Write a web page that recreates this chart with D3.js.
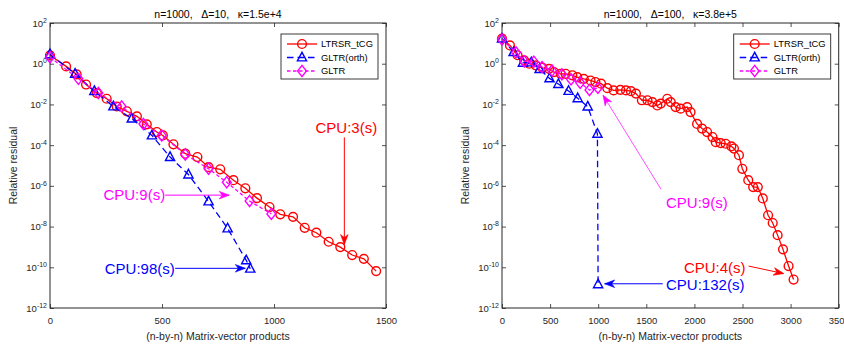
<!DOCTYPE html>
<html>
<head>
<meta charset="utf-8">
<script src="https://cdn.jsdelivr.net/npm/d3@7/dist/d3.min.js"></script>
<style>
  body { margin: 0; background: #fff; }
  svg { display: block; font-family: "Liberation Sans", Arial, Helvetica, sans-serif; }
</style>
</head>
<body>
<svg id="chart" width="844" height="348"></svg>
<script>
// ---- data: [matrix-vector products, relative residual] ----
// left panel, Delta = 10
const leftLtrsr = [[0,2.6],[72,0.74],[119,0.30],[161,9.5e-2],[209,3.6e-2],[253,1.9e-2],[298,7.9e-3],
  [343,4.6e-3],[388,2.6e-3],[432,1.05e-3],[477,4.4e-4],[504,3.0e-4],[551,1.1e-4],[604,3.8e-5],
  [658,2.6e-5],[708,8.3e-6],[760,6.5e-6],[819,1.9e-6],[872,7.6e-7],[924,2.5e-7],[980,9.1e-8],
  [1028,4.0e-8],[1085,3.0e-8],[1137,8.7e-9],[1189,5.0e-9],[1244,1.8e-9],[1296,9.8e-10],
  [1349,4.0e-10],[1401,2.6e-10],[1456,6.5e-11]];
const leftGltrOrth = [[0,2.9],[112,0.32],[198,4.5e-2],[283,7.9e-3],[365,2.0e-3],[455,3.0e-4],
  [536,2.6e-5],[618,3.6e-6],[708,1.7e-7],[793,8.1e-9],[876,2.2e-10],[894,8.5e-11]];
const leftGltr = [[0,2.1],[127,0.18],[216,3.6e-2],[320,7.9e-3],[417,1.1e-3],[499,3.0e-4],
  [604,3.5e-5],[708,6.9e-6],[789,1.5e-6],[891,1.8e-7],[988,4.2e-8]];

// right panel, Delta = 100
const rightLtrsr = [[0,17],[83,7.9],[162,2.6],[230,1.45],[282,1.0],[351,0.83],[421,0.63],[489,0.56],
  [540,0.39],[610,0.32],[661,0.32],[731,0.27],[782,0.22],[850,0.18],[920,0.15],[971,0.126],
  [1030,0.105],[1095,0.063],[1160,0.049],[1230,0.052],[1289,0.049],[1340,0.045],[1392,0.034],
  [1454,0.016],[1512,0.016],[1563,0.013],[1615,8.9e-3],[1650,1.1e-2],[1718,1.9e-2],[1754,1.3e-2],
  [1805,7.4e-3],[1857,6.2e-3],[1925,7.4e-3],[1960,4.2e-3],[2028,1.1e-3],[2080,6.5e-4],[2132,4.4e-4],
  [2188,2.5e-4],[2222,1.4e-4],[2273,1.26e-4],[2325,1.17e-4],[2384,8.7e-5],[2411,6.8e-5],
  [2463,3.2e-5],[2498,6.9e-6],[2560,1.9e-6],[2611,8.7e-7],[2659,8.7e-7],[2711,2.4e-7],
  [2766,3.6e-8],[2814,1.5e-8],[2865,3.8e-9],[2921,7.6e-10],[2979,1.15e-10],[3031,2.5e-11]];
const rightGltrOrth = [[0,17],[121,3.7],[217,1.1],[305,1.15],[391,0.54],[494,0.19],[586,0.10],
  [692,0.046],[787,0.020],[891,7.8e-3],[992,3.6e-4],[999,1.45e-11]];
const rightGltr = [[0,15.5],[145,3.6],[232,1.3],[331,1.26],[416,0.68],[520,0.46],[623,0.30],
  [718,0.17],[813,0.115],[909,0.051],[997,0.065]];

const seriesNames = ["LTRSR_tCG", "GLTR(orth)", "GLTR"];
const yTickValues = [1e-12, 1e-10, 1e-8, 1e-6, 1e-4, 1e-2, 1e0, 1e2];
const leftXTicks = [0, 500, 1000, 1500];
const rightXTicks = [0, 500, 1000, 1500, 2000, 2500, 3000, 3500];
const leftTitle = "n=1000,   \u0394=10,   \u03BA=1.5e+4";
const rightTitle = "n=1000,   \u0394=100,   \u03BA=3.8e+5";
const xLabel = "(n-by-n) Matrix-vector products";
const yLabel = "Relative residual";

// CPU time notes: text position and arrow (from -> to), in data units
const leftNotes = [
  { text: "CPU:3(s)", color: "#ff0000", tx: 1323, ty: 7.4e-4, anchor: "middle", from: [1314, 2.4e-4], to: [1314, 1.3e-9], w: 1 },
  { text: "CPU:9(s)", color: "#ff00ff", tx: 514, ty: 3.5e-7, anchor: "end", from: [514, 3.5e-7], to: [800, 3.5e-7], w: 1 },
  { text: "CPU:98(s)", color: "#0000ff", tx: 557, ty: 8.9e-11, anchor: "end", from: [559, 8.9e-11], to: [872, 8.9e-11], w: 1 }
];
const rightNotes = [
  { text: "CPU:9(s)", color: "#ff00ff", tx: 1705, ty: 1.4e-7, anchor: "start", from: [1653, 6.8e-7], to: [1051, 2.8e-2], w: 0.7 },
  { text: "CPU:4(s)", color: "#ff0000", tx: 1891, ty: 1.0e-10, anchor: "start", from: [2563, 1.15e-10], to: [2928, 4.9e-11], w: 1 },
  { text: "CPU:132(s)", color: "#0000ff", tx: 1705, ty: 1.4e-11, anchor: "start", from: [1671, 1.55e-11], to: [1067, 1.55e-11], w: 1 }
];

// ---- drawing ----
const svg = d3.select("#chart");
const axisColor = "#262626";
const plotTop = 23, plotBottom = 308;

const styles = [
  { color: "#ff0000", dash: null, marker: "circle" },
  { color: "#0000ff", dash: "6.5,4", marker: "triangle" },
  { color: "#ff00ff", dash: "3.5,2.5", marker: "diamond" }
];

function markerPath(kind) {
  if (kind === "triangle") return "M0,-5.2L4.6,3.4L-4.6,3.4Z";
  if (kind === "diamond") return "M0,-5.6L4.4,0L0,5.6L-4.4,0Z";
  return null;
}

function drawMarker(g, kind, color, cx, cy) {
  if (kind === "circle") {
    g.append("circle").attr("cx", cx).attr("cy", cy).attr("r", 4.4)
      .attr("fill", "none").attr("stroke", color).attr("stroke-width", 1.4);
  } else {
    g.append("path").attr("d", markerPath(kind))
      .attr("transform", `translate(${cx},${cy})`)
      .attr("fill", "none").attr("stroke", color).attr("stroke-width", 1.4);
  }
}

function drawArrow(g, x1, y1, x2, y2, color, width) {
  g.append("line").attr("x1", x1).attr("y1", y1).attr("x2", x2).attr("y2", y2)
    .attr("stroke", color).attr("stroke-width", width);
  const ang = Math.atan2(y2 - y1, x2 - x1) * 180 / Math.PI;
  g.append("path").attr("d", "M0,0L-10,-3.8L-7,0L-10,3.8Z")
    .attr("transform", `translate(${x2},${y2}) rotate(${ang})`)
    .attr("fill", color).attr("stroke", color).attr("stroke-width", 0.6);
}

function drawPanel(p) {
  const x = d3.scaleLinear().domain([0, p.xMax]).range([p.left, p.right]);
  const y = d3.scaleLog().domain([1e-12, 1e2]).range([plotBottom, plotTop]);
  const g = svg.append("g");

  // axes
  g.append("g").attr("transform", `translate(0,${plotBottom})`)
    .call(d3.axisBottom(x).tickValues(p.xTicks).tickSizeInner(-4).tickSizeOuter(0).tickPadding(9).tickFormat(d3.format("d")));
  const gy = g.append("g").attr("transform", `translate(${p.left},0)`)
    .call(d3.axisLeft(y).tickValues(yTickValues).tickSizeInner(-4).tickSizeOuter(0).tickPadding(3));
  g.append("g").attr("transform", `translate(0,${plotTop})`)
    .call(d3.axisTop(x).tickValues(p.xTicks).tickSizeInner(-4).tickSizeOuter(0).tickFormat(""));
  g.append("g").attr("transform", `translate(${p.right},0)`)
    .call(d3.axisRight(y).tickValues(yTickValues).tickSizeInner(-4).tickSizeOuter(0).tickFormat(""));
  g.selectAll(".domain").remove();
  g.selectAll(".tick line").attr("stroke", axisColor).attr("stroke-width", 0.8);
  g.selectAll(".tick text").attr("fill", axisColor).attr("font-size", 9.5)
    .attr("font-family", "'Liberation Sans', Arial, sans-serif");
  gy.selectAll(".tick text").each(function (d) {
    const t = d3.select(this);
    t.text(null);
    t.append("tspan").text("10");
    t.append("tspan").attr("dy", "-0.55em").attr("font-size", 7).text(Math.round(Math.log10(d)));
  });
  g.append("rect").attr("x", p.left).attr("y", plotTop)
    .attr("width", p.right - p.left).attr("height", plotBottom - plotTop)
    .attr("fill", "none").attr("stroke", axisColor).attr("stroke-width", 1);

  // series
  const line = d3.line().x(d => x(d[0])).y(d => y(d[1]));
  const plot = g.append("g");
  p.series.forEach((data, i) => {
    const s = styles[i];
    plot.append("path").attr("d", line(data)).attr("fill", "none")
      .attr("stroke", s.color).attr("stroke-width", 1.3)
      .attr("stroke-dasharray", s.dash);
    data.forEach(d => drawMarker(plot, s.marker, s.color, x(d[0]), y(d[1])));
  });

  // notes
  p.notes.forEach(n => {
    g.append("text").attr("x", x(n.tx)).attr("y", y(n.ty)).attr("dy", "0.35em")
      .attr("text-anchor", n.anchor).attr("fill", n.color).attr("font-size", 15)
      .text(n.text);
    drawArrow(g, x(n.from[0]), y(n.from[1]), x(n.to[0]), y(n.to[1]), n.color, n.w);
  });

  // legend
  const lw = 97, lh = 45;
  const lx = p.right - 8 - lw, ly = 34;
  const lg = g.append("g");
  lg.append("rect").attr("x", lx).attr("y", ly).attr("width", lw).attr("height", lh)
    .attr("fill", "#fff").attr("stroke", axisColor).attr("stroke-width", 0.9);
  seriesNames.forEach((name, i) => {
    const s = styles[i];
    const yy = ly + 10 + i * 13.5;
    lg.append("line").attr("x1", lx + 6).attr("x2", lx + 36).attr("y1", yy).attr("y2", yy)
      .attr("stroke", s.color).attr("stroke-width", 1.3).attr("stroke-dasharray", s.dash);
    drawMarker(lg, s.marker, s.color, lx + 21, yy);
    lg.append("text").attr("x", lx + 40).attr("y", yy).attr("dy", "0.35em")
      .attr("font-size", 9.4).attr("fill", "#000").text(name);
  });

  // titles and labels
  g.append("text").attr("x", (p.left + p.right) / 2).attr("y", 17.5)
    .attr("text-anchor", "middle").attr("font-size", 10.5).attr("fill", "#000")
    .style("white-space", "pre").text(p.title);
  g.append("text").attr("x", (p.left + p.right) / 2).attr("y", 340)
    .attr("text-anchor", "middle").attr("font-size", 10.5).attr("fill", axisColor).text(xLabel);
  g.append("text").attr("transform", `translate(${p.left - 33.5},${(plotTop + plotBottom) / 2}) rotate(-90)`)
    .attr("text-anchor", "middle").attr("font-size", 10.5).attr("fill", axisColor).text(yLabel);
}

drawPanel({ left: 50, right: 386, xMax: 1500, xTicks: leftXTicks, title: leftTitle,
  series: [leftLtrsr, leftGltrOrth, leftGltr], notes: leftNotes });
drawPanel({ left: 502, right: 838.7, xMax: 3500, xTicks: rightXTicks, title: rightTitle,
  series: [rightLtrsr, rightGltrOrth, rightGltr], notes: rightNotes });
</script>
</body>
</html>
